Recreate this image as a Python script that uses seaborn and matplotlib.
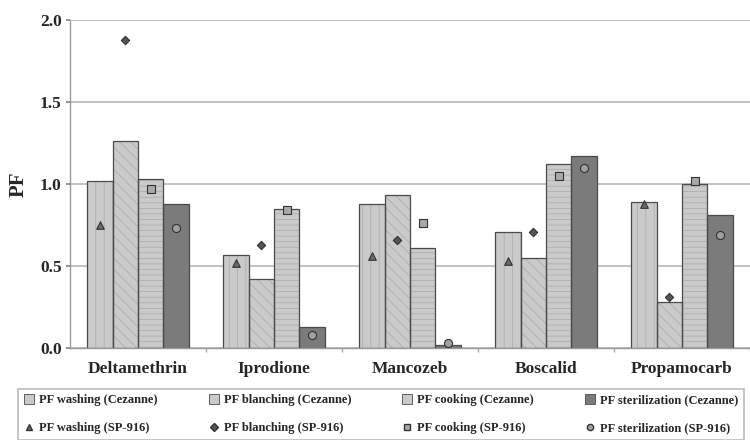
import numpy as np
import pandas as pd
import matplotlib
matplotlib.use("Agg")
import matplotlib.pyplot as plt
from matplotlib.patches import Patch, Rectangle
from matplotlib.lines import Line2D
import seaborn as sns

pesticides = ["Deltamethrin", "Iprodione", "Mancozeb", "Boscalid", "Propamocarb"]
processes = ["washing", "blanching", "cooking", "sterilization"]

# Cezanne (bars)
cez_washing = [1.02, 0.57, 0.88, 0.71, 0.89]
cez_blanching = [1.26, 0.42, 0.93, 0.55, 0.28]
cez_cooking = [1.03, 0.85, 0.61, 1.12, 1.00]
cez_sterilization = [0.88, 0.13, 0.02, 1.17, 0.81]

# SP-916 (markers)
sp_washing = [0.75, 0.52, 0.56, 0.53, 0.88]
sp_blanching = [1.88, 0.63, 0.66, 0.71, 0.31]
sp_cooking = [0.97, 0.84, 0.76, 1.05, 1.02]
sp_sterilization = [0.73, 0.08, 0.03, 1.10, 0.69]

yticks = [0.0, 0.5, 1.0, 1.5, 2.0]

sns.set_theme(style="white")
plt.rcParams["font.family"] = ["Liberation Serif", "DejaVu Serif"]
plt.rcParams["hatch.linewidth"] = 0.5

cez = [cez_washing, cez_blanching, cez_cooking, cez_sterilization]
sp = [sp_washing, sp_blanching, sp_cooking, sp_sterilization]

df = pd.DataFrame({
    "pesticide": np.repeat([pesticides], 4, axis=0).ravel(),
    "process": np.repeat(processes, len(pesticides)),
    "PF": np.concatenate(cez),
})

bar_colors = ["#cacaca", "#cacaca", "#cacaca", "#7b7b7b"]
hatches = ["||", "\\\\\\", "---", ""]
hatch_col = "#a9a9a9"
edge = "#4a4a4a"

fig = plt.figure(figsize=(7.5, 4.4), dpi=100)
ax = fig.add_axes([70 / 750, 1 - 348 / 440, 1 - 70 / 750, (348 - 20) / 440])

sns.barplot(data=df, x="pesticide", y="PF", hue="process", order=pesticides,
            hue_order=processes, palette=bar_colors, saturation=1, width=0.745,
            gap=0, edgecolor=hatch_col, linewidth=0, legend=False, ax=ax, errorbar=None)

marker_styles = [
    dict(marker="^", s=30, facecolor="#6a6a6a", edgecolor="#333333"),
    dict(marker="D", s=18, facecolor="#555555", edgecolor="#333333"),
    dict(marker="s", s=34, facecolor="#a8a8a8", edgecolor="#333333"),
    dict(marker="o", s=34, facecolor="#a0a0a0", edgecolor="#333333"),
]

for i, cont in enumerate(ax.containers):
    xs = []
    for p in cont.patches:
        p.set_hatch(hatches[i])
        ax.add_patch(Rectangle((p.get_x(), p.get_y()), p.get_width(), p.get_height(),
                               fill=False, edgecolor=edge, linewidth=0.9, zorder=p.get_zorder() + 0.1))
        xs.append(p.get_x() + p.get_width() / 2)
    ax.scatter(xs, sp[i], linewidths=0.8, zorder=5, **marker_styles[i])

ax.set_ylim(0, 2.0)
ax.set_xlim(-0.5, -0.5 + 680 / 137)
ax.set_yticks(yticks)
ax.set_yticklabels([f"{v:.1f}" for v in yticks], fontweight="bold", fontsize=12.5)
ax.set_xticks(range(len(pesticides)))
ax.set_xticklabels(pesticides, fontweight="bold", fontsize=12.5)
ax.set_xticks(np.arange(len(pesticides)) + 0.5, minor=True)
ax.tick_params(axis="x", which="major", length=0, pad=9)
ax.tick_params(axis="x", which="minor", length=3, color="#aaaaaa", direction="out", bottom=True)
ax.tick_params(axis="y", length=3, color="#888888", left=True, pad=3)
ax.set_xlabel("")
ax.set_ylabel("PF", fontweight="bold", fontsize=15, labelpad=8)
ax.yaxis.grid(True, color="#bdbdbd", linewidth=1.3)
ax.set_axisbelow(True)
for s in ["top", "right"]:
    ax.spines[s].set_visible(False)
for s in ["left", "bottom"]:
    ax.spines[s].set_color("#999999")
    ax.spines[s].set_linewidth(1.0)

handles = []
labels = []
for i, proc in enumerate(processes):
    handles.append(Patch(facecolor=bar_colors[i], edgecolor=edge, linewidth=0.6))
    labels.append(f"PF {proc} (Cezanne)")
for i, proc in enumerate(processes):
    ms = marker_styles[i]
    handles.append(Line2D([], [], linestyle="none", marker=ms["marker"],
                          markerfacecolor=ms["facecolor"], markeredgecolor=ms["edgecolor"],
                          markersize=4.5))
    labels.append(f"PF {proc} (SP-916)")

order = []
for c in range(4):
    order += [c, c + 4]
leg = fig.legend([handles[k] for k in order], [labels[k] for k in order],
                 ncol=4, loc="lower left", bbox_to_anchor=(12 / 750, -6 / 440, 1 - 12 / 750, 56 / 440),
                 mode="expand", frameon=True, fancybox=False,
                 prop={"weight": "bold", "size": 9}, handlelength=0.8, handleheight=0.8,
                 handletextpad=0.4, borderpad=0.45, labelspacing=1.25, columnspacing=0.8)
leg.get_frame().set_edgecolor("#aaaaaa")
leg.get_frame().set_linewidth(1.2)

fig.savefig("out.png", dpi=100, facecolor="white")
